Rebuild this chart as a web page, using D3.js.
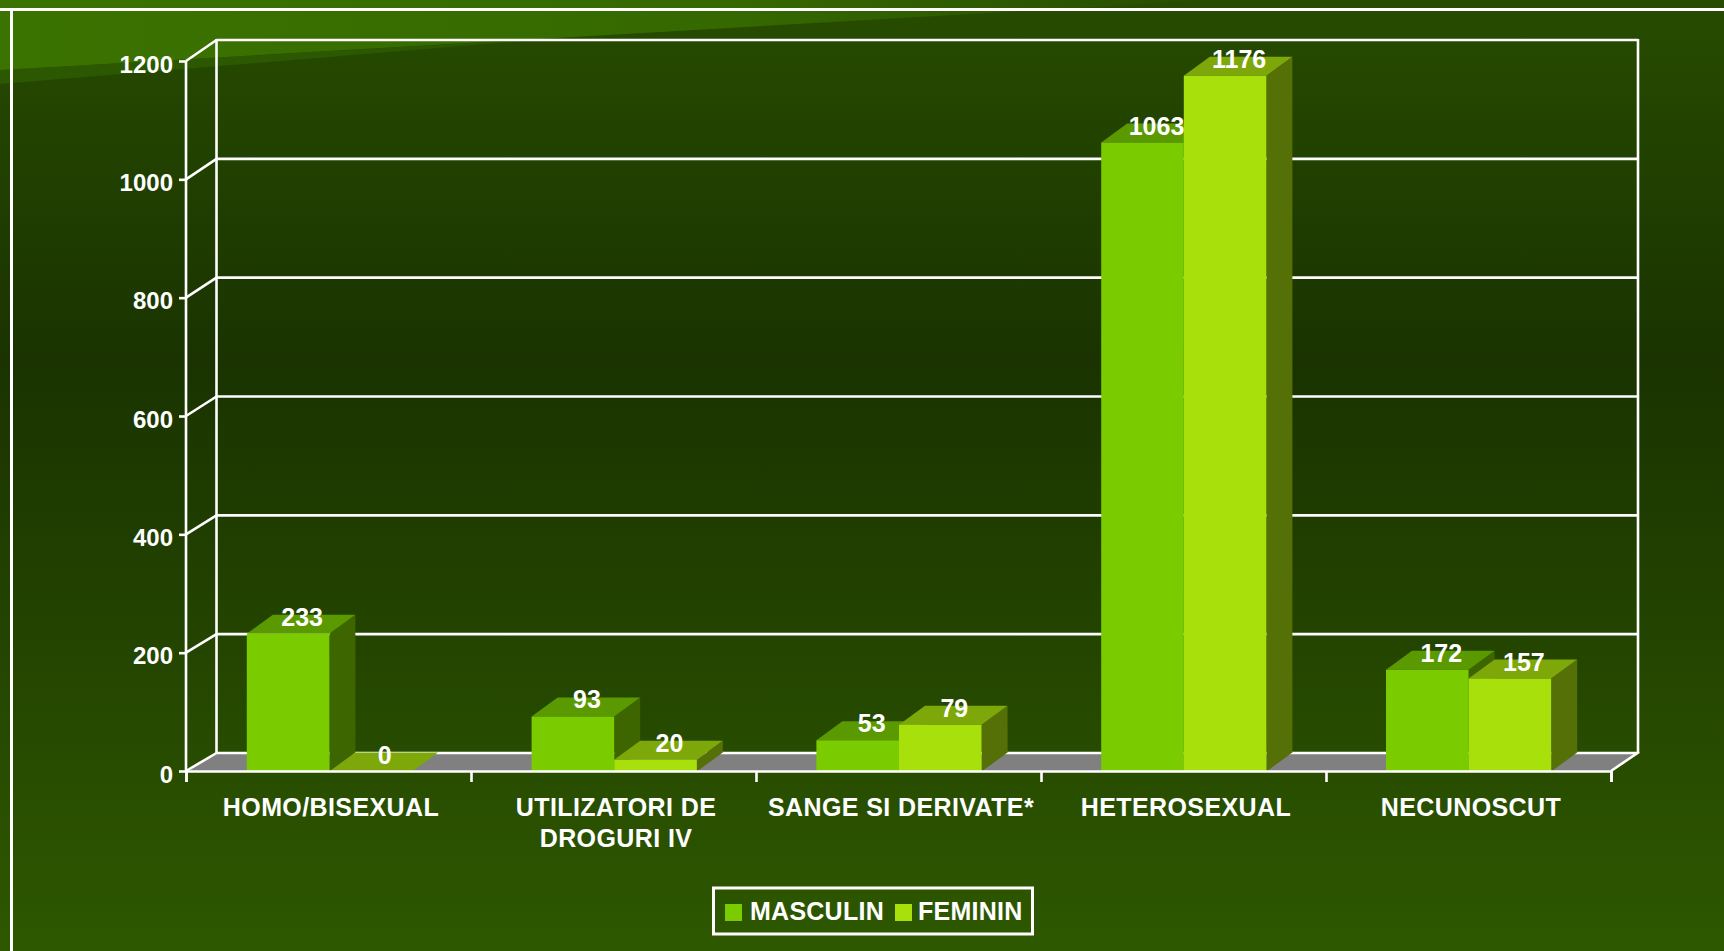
<!DOCTYPE html>
<html><head><meta charset="utf-8">
<script src="https://cdn.jsdelivr.net/npm/d3@7"></script>
<style>html,body{margin:0;padding:0;background:#1a3300;overflow:hidden}svg{display:block}
text{font-family:"Liberation Sans",Arial,sans-serif;font-weight:700;fill:#fff}</style></head>
<body><svg id="c" width="1724" height="951"></svg>
<script>
const categories = [["HOMO/BISEXUAL"],["UTILIZATORI DE","DROGURI IV"],["SANGE SI DERIVATE*"],["HETEROSEXUAL"],["NECUNOSCUT"]];
const seriesNames = ["MASCULIN","FEMININ"];
const masculin = [233,93,53,1063,172];
const feminin = [0,20,79,1176,157];
const yTicks = [0,200,400,600,800,1000,1200];
const front = ["#7acc00","#a8e00c"], topC = ["#5a9900","#7ea809"], sideC = ["#3d6600","#547006"];

const W=1724,H=951, L=186,R=1611, Y0=771,Y1=61, DX=27,DY=19, BL=30.5;
const svg=d3.select("#c");
const defs=svg.append("defs");
const bg=defs.append("linearGradient").attr("id","bg").attr("x1",0).attr("x2",0).attr("y1",0).attr("y2",1);
[[0,"#274c00"],[.38,"#1a3300"],[1,"#2e5800"]].forEach(s=>bg.append("stop").attr("offset",s[0]).attr("stop-color",s[1]));
const wg=defs.append("linearGradient").attr("id","wg").attr("gradientUnits","userSpaceOnUse").attr("x1",0).attr("x2",1215).attr("y1",0).attr("y2",0);
[[0,"#3b7300"],[.6,"#356900"],[1,"#274c00"]].forEach(s=>wg.append("stop").attr("offset",s[0]).attr("stop-color",s[1]));
svg.append("rect").attr("width",W).attr("height",H).attr("fill","url(#bg)");
const poly=(pts,f)=>svg.append("polygon").attr("points",pts.map(p=>p.join(",")).join(" ")).attr("fill",f);
poly([[0,84],[560,38],[0,70]],"#2b5800");
poly([[0,0],[1215,0],[0,70]],"url(#wg)");
const line=(x1,y1,x2,y2,w=2.6)=>svg.append("line").attr("x1",x1).attr("y1",y1).attr("x2",x2).attr("y2",y2).attr("stroke","#fff").attr("stroke-width",w);
line(0,9.5,W,9.5,3); line(11.5,8,11.5,H,3);

const y=d3.scaleLinear().domain([0,1200]).range([Y0,Y1]);
const yBack=d3.scaleLinear().domain([0,1200]).range([753,40]);
const yBar=d3.scaleLinear().domain([0,1200]).range([771.5,61.5]);
const xEdge=d3.scaleLinear().domain([0,categories.length]).range([L,R]);
const x0=d3.scaleBand().domain(categories.map((c,i)=>i)).range([L+1,R]).paddingInner(.42).paddingOuter(.21);
const x1=d3.scaleBand().domain([0,1]).range([0,x0.bandwidth()]);

// floor
poly([[L,Y0],[L+BL,yBack(0)],[R+DX,yBack(0)],[R,Y0]],"#808080");
// back wall grid
yTicks.forEach(t=>{ line(L,y(t),L+BL,yBack(t)); line(L+BL,yBack(t),R+DX,yBack(t)); });
line(L,Y1,L,Y0); line(L+BL,yBack(1200)-1,L+BL,yBack(0)); line(R+DX,yBack(1200)-1,R+DX,yBack(0));
line(R,Y0,R+DX+1,yBack(0)-1);

// bars
categories.forEach((c,i)=>{
  [masculin[i],feminin[i]].forEach((v,s)=>{
    const a=x0(i)+x1(s), b=a+x1.bandwidth(), t=yBar(v), base=yBar(0);
    poly([[b,t],[b+DX-1,t-DY],[b+DX-1,base-DY],[b,base]],sideC[s]);
    poly([[a,t],[a+DX-1,t-DY],[b+DX-1,t-DY],[b,t]],topC[s]);
    if(v>0) poly([[a,t],[b,t],[b,base],[a,base]],front[s]);
  });
});

// axes
const ax=svg.append("g").attr("transform",`translate(${L},0)`).call(d3.axisLeft(y).tickValues(yTicks).tickFormat(d3.format("d")).tickSize(7).tickPadding(6));
ax.select(".domain").remove();
ax.selectAll("line").attr("stroke","#fff").attr("stroke-width",2.6);
ax.selectAll("text").attr("dy","0.46em").style("font-size","24px").attr("fill","#fff");
const bx=svg.append("g").attr("transform",`translate(0,${Y0})`).call(d3.axisBottom(xEdge).ticks(categories.length).tickSize(11).tickFormat(""));
bx.select(".domain").attr("stroke","#fff").attr("stroke-width",2.6);
bx.selectAll("line").attr("stroke","#fff").attr("stroke-width",2.6);

// category labels
categories.forEach((c,i)=>{
  const t=svg.append("text").attr("text-anchor","middle").style("font-size","25px").style("letter-spacing","0.4px");
  c.forEach((s,k)=>t.append("tspan").attr("x",xEdge(i+.5)+2.5).attr("y",816+k*31).text(s));
});
// value labels
categories.forEach((c,i)=>{
  [masculin[i],feminin[i]].forEach((v,s)=>{
    svg.append("text").attr("text-anchor","middle").style("font-size","25px")
      .attr("x",x0(i)+x1(s)+x1.bandwidth()/2+14).attr("y",yBar(v)-8).text(v);
  });
});
// legend
svg.append("rect").attr("x",713.5).attr("y",888).attr("width",319).attr("height",46).attr("fill","none").attr("stroke","#fff").attr("stroke-width",3);
const legX=[725,895], legT=[750,918];
seriesNames.forEach((n,s)=>{
  svg.append("rect").attr("x",legX[s]).attr("y",904).attr("width",17).attr("height",17).attr("fill",front[s]);
  svg.append("text").attr("x",legT[s]).attr("y",920).style("font-size","25px").style("letter-spacing","0.25px").text(n);
});
</script></body></html>
